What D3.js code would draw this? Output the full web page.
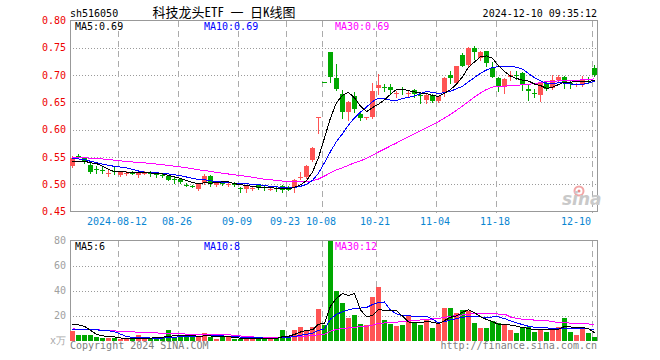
<!DOCTYPE html>
<html>
<head>
<meta charset="utf-8">
<title>科技龙头ETF 日K线图</title>
<style>
body { margin: 0; background: #fff; }
text {
    font-family: "DejaVu Sans Mono", monospace;
    font-size: 10px;
}
.hgrid { stroke: #9a9a9a; stroke-dasharray: 1,2; shape-rendering: crispEdges; }
.vgrid { stroke: #ababab; stroke-dasharray: 6,4; shape-rendering: crispEdges; }
.frame { fill: none; stroke: #999; shape-rendering: crispEdges; }
.ma { fill: none; stroke-width: 1; shape-rendering: crispEdges; }
.bar, .wick { shape-rendering: crispEdges; }
</style>
</head>
<body>
<div id="chart"></div>
<script src="https://cdn.jsdelivr.net/npm/d3@7"></script>
<script>
var dates = [
    "2024-07-31",
    "2024-08-01","2024-08-02","2024-08-05","2024-08-06","2024-08-07","2024-08-08","2024-08-09","2024-08-12","2024-08-13","2024-08-14",
    "2024-08-15","2024-08-16","2024-08-19","2024-08-20","2024-08-21","2024-08-22","2024-08-23","2024-08-26","2024-08-27","2024-08-28",
    "2024-08-29","2024-08-30",
    "2024-09-02","2024-09-03","2024-09-04","2024-09-05","2024-09-06","2024-09-09","2024-09-10","2024-09-11","2024-09-12","2024-09-13",
    "2024-09-18","2024-09-19","2024-09-20","2024-09-23","2024-09-24","2024-09-25","2024-09-26","2024-09-27","2024-09-30",
    "2024-10-08","2024-10-09","2024-10-10","2024-10-11","2024-10-14","2024-10-15","2024-10-16","2024-10-17","2024-10-18","2024-10-21",
    "2024-10-22","2024-10-23","2024-10-24","2024-10-25","2024-10-28","2024-10-29","2024-10-30","2024-10-31",
    "2024-11-01","2024-11-04","2024-11-05","2024-11-06","2024-11-07","2024-11-08","2024-11-11","2024-11-12","2024-11-13","2024-11-14",
    "2024-11-15","2024-11-18","2024-11-19","2024-11-20","2024-11-21","2024-11-22","2024-11-25","2024-11-26","2024-11-27","2024-11-28",
    "2024-11-29",
    "2024-12-02","2024-12-03","2024-12-04","2024-12-05","2024-12-06","2024-12-09","2024-12-10"
];

var openP = [
    .533,.552,.548,.536,.528,.526,.519,.524,.517,.520, .521,.516,.520,.521,.520,.517,.515,.509,.510,.499,
    .497,.492,.502,.515,.498,.503,.499,.503,.493,.492, .492,.499,.494,.491,.493,.497,.494,.495,.512,.513,
    .544,.622,.687,.742,.694,.666,.633,.662,.629,.621, .623,.677,.678,.679,.666,.674,.667,.673,.663,.655,
    .664,.652,.667,.700,.685,.737,.718,.750,.731,.744, .713,.694,.679,.696,.701,.703,.674,.667,.664,.685,
    .676,.691,.697,.686,.683,.682,.692,.713
];
var highP = [
    .551,.555,.549,.538,.533,.531,.527,.531,.523,.524, .524,.522,.524,.525,.521,.519,.516,.514,.511,.502,
    .499,.500,.518,.517,.505,.505,.502,.504,.495,.498, .495,.501,.496,.494,.496,.499,.496,.510,.522,.535,
    .569,.624,.687,.742,.721,.672,.653,.669,.632,.624, .686,.702,.684,.684,.670,.679,.673,.674,.667,.667,
    .666,.662,.697,.707,.717,.740,.752,.754,.745,.745, .724,.697,.694,.707,.707,.706,.682,.674,.687,.688,
    .700,.700,.699,.691,.686,.699,.697,.719
];
var lowP = [
    .531,.548,.539,.520,.521,.520,.515,.518,.515,.516, .518,.514,.518,.515,.514,.513,.507,.503,.502,.496,
    .494,.490,.500,.496,.496,.499,.497,.496,.486,.486, .490,.491,.490,.489,.487,.486,.489,.486,.510,.512,
    .543,.593,.687,.688,.672,.622,.618,.633,.617,.620, .621,.665,.670,.665,.660,.665,.660,.660,.649,.649,
    .650,.650,.661,.685,.684,.716,.716,.730,.728,.716, .696,.670,.668,.691,.692,.673,.654,.660,.653,.673,
    .674,.688,.676,.676,.680,.680,.685,.699
];
var closeP = [
    .548,.551,.541,.522,.527,.525,.520,.523,.522,.521, .520,.521,.521,.520,.516,.516,.508,.508,.504,.498,
    .496,.500,.515,.501,.504,.502,.500,.498,.492,.497, .493,.493,.493,.492,.492,.490,.490,.508,.513,.533,
    .567,.624,.687,.696,.674,.633,.651,.637,.621,.623, .670,.682,.677,.672,.667,.673,.668,.666,.662,.664,
    .652,.661,.695,.694,.716,.717,.750,.743,.743,.722, .697,.679,.693,.700,.700,.682,.670,.666,.686,.674,
    .691,.697,.687,.685,.684,.692,.691,.701
];
// volume in 万
var volume = [
    7.5,4.8,4.0,4.8,3.2,1.9,2.1,2.1,0.8,1.0, 0.8,4.8,0.8,2.1,3.2,2.1,8.8,2.7,3.2,3.2,
    3.2,2.7,6.4,2.7,1.6,2.7,2.7,1.6,1.0,1.6, 2.1,1.6,1.0,1.6,2.1,8.8,3.2,8.8,11.2,8.8,
    10.7,25.6,12.8,79.5,40,29.9,17.9,20.8,13.6,12.8, 34.7,42.7,16.3,13.6,12,12.8,19.5,14.1,12.8,16.5,
    10.4,13.3,26.4,26.4,21.9,24.8,24,14.4,10.4,10.4, 16,13.9,13.1,8.5,6.4,9.9,10.7,7.2,8.8,7.2,
    10.4,11.2,18.1,7.2,4.8,10.9,6.4,2.4
];
// sessions before the first drawn day, only feed the moving averages
var priorCloses = [
    .556,.552,.548,.545,.549,.553,.556,.558,.554,.550,.547,.545,.548,.551,.553,.549,.546,.544,.548,.550,
    .556,.554,.553,.552,.550,.545,.540,.537,.534
];
var priorVolume = [
    12,10,8,9,11,14,9,7,8,10,12,9,8,7,9,11,10,8,9,8,
    6,5,5.5,5,6,5,10,20,20
];

var priceTicks = [0.45, 0.50, 0.55, 0.60, 0.65, 0.70, 0.75, 0.80];
var volumeTicks = [20, 40, 60, 80];
var tickDates = ["2024-08-12","2024-08-26","2024-09-09","2024-09-23","2024-10-08","2024-10-21","2024-11-04","2024-11-18","2024-12-10"];
var maPeriods = [5, 10, 30];
var maColors = ["#000000", "#0000ff", "#ff00ff"];

(function() {
    var RED = "#ff5454", GREEN = "#00a800";
    var left = 70, right = 597;

    var svg = d3.select("#chart").append("svg")
        .attr("width", 660)
        .attr("height", 360)
        .style("display", "block");

    var x = d3.scaleBand().domain(dates).range([70, 598]);
    var y = d3.scaleLinear().domain([0.45, 0.80]).range([211.5, 20.5]);
    var yv = d3.scaleLinear().domain([0, 80]).range([340.5, 240.5]);

    function isUp(i) { return closeP[i] > openP[i]; }
    function colorOf(i) { return isUp(i) ? RED : GREEN; }
    function px(v) { return Math.round(v); }

    function movingAvg(prior, values, n) {
        var all = prior.concat(values), off = prior.length;
        return values.map(function(d, i) {
            var s = 0;
            for (var k = off + i - n + 1; k <= off + i; k++) s += all[k];
            return s / n;
        });
    }

    // grid lines
    var grid = svg.append("g");
    grid.selectAll("line.hp")
        .data(priceTicks.slice(1, -1))
        .enter().append("line")
        .attr("class", "hgrid")
        .attr("x1", left).attr("x2", right)
        .attr("y1", function(d) { return px(y(d)) + 0.5; })
        .attr("y2", function(d) { return px(y(d)) + 0.5; });
    grid.selectAll("line.hv")
        .data(volumeTicks.slice(0, -1))
        .enter().append("line")
        .attr("class", "hgrid")
        .attr("x1", left).attr("x2", right)
        .attr("y1", function(d) { return px(yv(d)) + 0.5; })
        .attr("y2", function(d) { return px(yv(d)) + 0.5; });
    tickDates.forEach(function(d) {
        var gx = x(d) + 0.5;
        grid.append("line").attr("class", "vgrid")
            .attr("x1", gx).attr("x2", gx).attr("y1", 21).attr("y2", 213);
        grid.append("line").attr("class", "vgrid")
            .attr("x1", gx).attr("x2", gx).attr("y1", 241).attr("y2", 341);
    });

    // frames
    svg.append("rect").attr("class", "frame")
        .attr("x", 70.5).attr("y", 20.5).attr("width", 527).attr("height", 191);
    svg.append("path").attr("class", "frame")
        .attr("d", "M70.5,341V240.5H597.5V341");

    // sina watermark
    var wm = svg.append("g").attr("transform", "translate(560,205)");
    wm.append("circle").attr("cx", 19).attr("cy", -14).attr("r", 4.5)
        .attr("fill", "none").attr("stroke", "#f2a6a6").attr("stroke-width", 2);
    wm.append("circle").attr("cx", 19).attr("cy", -14).attr("r", 1.5).attr("fill", "#e88");
    wm.append("text").attr("x", 2).attr("y", 0)
        .style("font-family", "'DejaVu Sans', sans-serif")
        .style("font-size", "17px").style("font-weight", "bold").style("font-style", "italic")
        .attr("fill", "#c9c9c9").text("sina");

    // candles
    var candles = svg.append("g").selectAll("g")
        .data(dates)
        .enter().append("g");
    candles.append("rect")
        .attr("class", "wick")
        .attr("x", function(d) { return x(d) + 2; })
        .attr("width", 1)
        .attr("y", function(d, i) { return px(y(highP[i])); })
        .attr("height", function(d, i) { return px(y(lowP[i])) - px(y(highP[i])) + 1; })
        .attr("fill", function(d, i) { return colorOf(i); });
    candles.append("rect")
        .attr("class", "bar")
        .attr("x", function(d) { return x(d); })
        .attr("width", 5)
        .attr("y", function(d, i) { return px(y(Math.max(openP[i], closeP[i]))); })
        .attr("height", function(d, i) {
            return Math.max(1, px(y(Math.min(openP[i], closeP[i]))) - px(y(Math.max(openP[i], closeP[i]))));
        })
        .attr("fill", function(d, i) { return colorOf(i); });

    // volume bars
    svg.append("g").selectAll("rect")
        .data(volume)
        .enter().append("rect")
        .attr("class", "bar")
        .attr("x", function(d, i) { return x(dates[i]); })
        .attr("width", 5)
        .attr("y", function(d) { return px(yv(d)); })
        .attr("height", function(d) { return px(yv(0)) - px(yv(d)); })
        .attr("fill", function(d, i) { return colorOf(i); });

    // moving averages
    var priceMA = maPeriods.map(function(n) { return movingAvg(priorCloses, closeP, n); });
    var volMA = maPeriods.map(function(n) { return movingAvg(priorVolume, volume, n); });
    var linePrice = d3.line()
        .x(function(d, i) { return x(dates[i]) + 2.5; })
        .y(function(d) { return y(d); });
    var lineVol = d3.line()
        .x(function(d, i) { return x(dates[i]) + 2.5; })
        .y(function(d) { return yv(d); });
    var maLines = svg.append("g");
    [2, 1, 0].forEach(function(k) {
        maLines.append("path").attr("class", "ma")
            .attr("d", linePrice(priceMA[k]))
            .attr("stroke", maColors[k])
            .attr("stroke-width", k === 0 ? 1.5 : 1);
        maLines.append("path").attr("class", "ma")
            .attr("d", lineVol(volMA[k]))
            .attr("stroke", maColors[k])
            .attr("stroke-width", k === 0 ? 1.5 : 1);
    });

    // axes
    var yAxis = svg.append("g")
        .attr("transform", "translate(70,0)")
        .call(d3.axisLeft(y).tickValues(priceTicks).tickFormat(d3.format(".2f")).tickSize(0).tickPadding(4));
    yAxis.select(".domain").remove();
    yAxis.selectAll("text").attr("fill", "#ee0000");

    var vAxis = svg.append("g")
        .attr("transform", "translate(70,0)")
        .call(d3.axisLeft(yv).tickValues(volumeTicks).tickSize(0).tickPadding(4));
    vAxis.select(".domain").remove();
    vAxis.selectAll("text").attr("fill", "#a0a0a0");
    svg.append("text").attr("x", 66).attr("y", 344).attr("text-anchor", "end")
        .attr("fill", "#a8a8a8").text("x万");

    var xAxis = svg.append("g")
        .attr("transform", "translate(-4,211)")
        .call(d3.axisBottom(x).tickValues(tickDates).tickSize(0).tickPadding(7)
            .tickFormat(function(d, i) { return i === 0 ? d : d.slice(5); }));
    xAxis.select(".domain").remove();
    xAxis.selectAll("text").attr("fill", "#0a86d2");
    xAxis.selectAll(".tick").filter(function(d) { return x(d) + 16 > right; })
        .select("text").attr("text-anchor", "end");

    // header
    svg.append("text").attr("x", 70).attr("y", 17).attr("fill", "#000").text("sh516050");
    svg.append("text").attr("x", 224).attr("y", 17).attr("text-anchor", "middle")
        .style("font-family", "'Noto Sans Mono CJK SC', 'Noto Sans CJK SC', sans-serif")
        .style("font-size", "13px")
        .attr("fill", "#000").text("科技龙头ETF 一 日K线图");
    svg.append("text").attr("x", 597).attr("y", 17).attr("text-anchor", "end")
        .attr("fill", "#000").text("2024-12-10 09:35:12");

    // legends
    var legX = [75, 204, 335];
    var fmt2 = d3.format(".2f");
    maPeriods.forEach(function(n, k) {
        svg.append("text").attr("x", legX[k]).attr("y", 30).attr("fill", maColors[k])
            .text("MA" + n + ":" + fmt2(priceMA[k][priceMA[k].length - 1]));
        svg.append("text").attr("x", legX[k]).attr("y", 250).attr("fill", maColors[k])
            .text("MA" + n + ":" + Math.floor(volMA[k][volMA[k].length - 1]));
    });

    // footer
    svg.append("text").attr("x", 70).attr("y", 349).attr("fill", "#808080").text("Copyright 2024 SINA.COM");
    svg.append("text").attr("x", 597).attr("y", 349).attr("text-anchor", "end")
        .attr("fill", "#808080").text("http://finance.sina.com.cn");
})();
</script>
</body>
</html>
